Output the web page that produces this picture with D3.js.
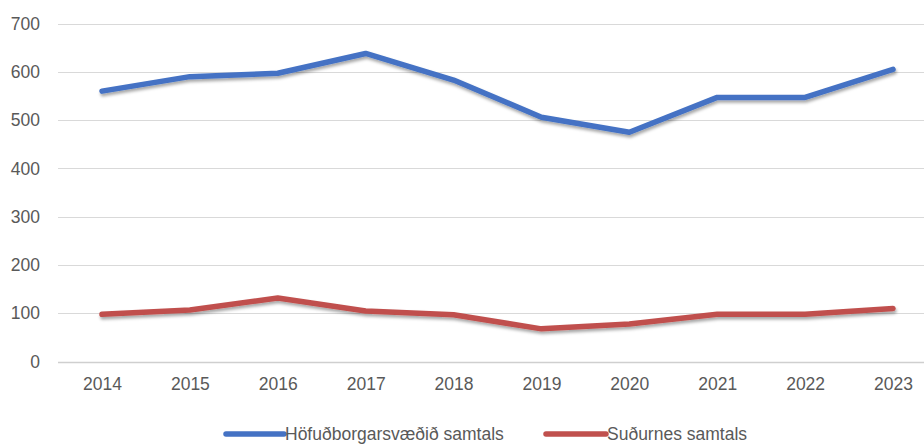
<!DOCTYPE html>
<html>
<head>
<meta charset="utf-8">
<script src="https://cdn.jsdelivr.net/npm/d3@7"></script>
<style>
  html, body { margin: 0; padding: 0; background: #ffffff; }
  svg { display: block; font-family: "Liberation Sans", Arial, sans-serif; }
</style>
</head>
<body>
<svg id="chart" width="924" height="445"></svg>
<script>
const years = ["2014","2015","2016","2017","2018","2019","2020","2021","2022","2023"];
const hofudborg = [560, 590, 597, 638, 583, 506, 475, 547, 547, 605];
const sudurnes = [98, 107, 132, 105, 97, 68, 78, 98, 98, 110];
const yTicks = [0, 100, 200, 300, 400, 500, 600, 700];
const seriesNames = ["Höfuðborgarsvæðið samtals", "Suðurnes samtals"];
const seriesColors = ["#4472C4", "#C0504D"];

const svg = d3.select("#chart");
const gridLeft = 58, gridRight = 924;

const x = d3.scalePoint().domain(years).range([102, 893]);
const y = d3.scaleLinear().domain([0, 700]).range([361.7, 23.5]);

const defs = svg.append("defs");
const f = defs.append("filter").attr("id", "shadow")
  .attr("x", "-5%").attr("y", "-50%").attr("width", "110%").attr("height", "200%");
f.append("feDropShadow").attr("dx", 1).attr("dy", 2.5).attr("stdDeviation", 1.6)
  .attr("flood-color", "#000").attr("flood-opacity", 0.35);

// gridlines
svg.append("g").selectAll("line").data(yTicks).join("line")
  .attr("x1", gridLeft).attr("x2", gridRight)
  .attr("y1", d => Math.round(y(d)) + 0.5).attr("y2", d => Math.round(y(d)) + 0.5)
  .attr("stroke", d => d === 0 ? "#cfcfcf" : "#d9d9d9")
  .attr("stroke-width", d => d === 0 ? 1.5 : 1);

// y axis labels
const yAxis = d3.axisLeft(y).tickValues(yTicks).tickSize(0).tickPadding(0);
const gy = svg.append("g").attr("transform", "translate(40,0)").call(yAxis);
gy.select(".domain").remove();
gy.selectAll("text").attr("fill", "#595959").style("font-size", "17.5px")
  .style("font-family", "'Liberation Sans', Arial, sans-serif");

// x axis labels
const xAxis = d3.axisBottom(x).tickSize(0).tickPadding(0);
const gx = svg.append("g").attr("transform", "translate(0,378)").call(xAxis);
gx.select(".domain").remove();
gx.selectAll("text").attr("fill", "#595959").style("font-size", "17.5px")
  .style("font-family", "'Liberation Sans', Arial, sans-serif");

// lines
const line = d3.line().x((d, i) => x(years[i])).y(d => y(d));
[hofudborg, sudurnes].forEach((s, k) => {
  svg.append("path").datum(s)
    .attr("d", line)
    .attr("fill", "none")
    .attr("stroke", seriesColors[k])
    .attr("stroke-width", 5.5)
    .attr("stroke-linejoin", "round")
    .attr("stroke-linecap", "round")
    .attr("filter", "url(#shadow)");
});

// legend
const legendItems = [
  { x1: 226, x2: 284, tx: 285 },
  { x1: 546, x2: 606, tx: 607 }
];
const lg = svg.append("g");
legendItems.forEach((it, k) => {
  lg.append("line")
    .attr("x1", it.x1).attr("x2", it.x2).attr("y1", 434).attr("y2", 434)
    .attr("stroke", seriesColors[k]).attr("stroke-width", 5.5)
    .attr("stroke-linecap", "round");
  lg.append("text")
    .attr("x", it.tx).attr("y", 434).attr("dy", "0.35em")
    .attr("fill", "#595959").style("font-size", "17.5px")
    .text(seriesNames[k]);
});
</script>
</body>
</html>
